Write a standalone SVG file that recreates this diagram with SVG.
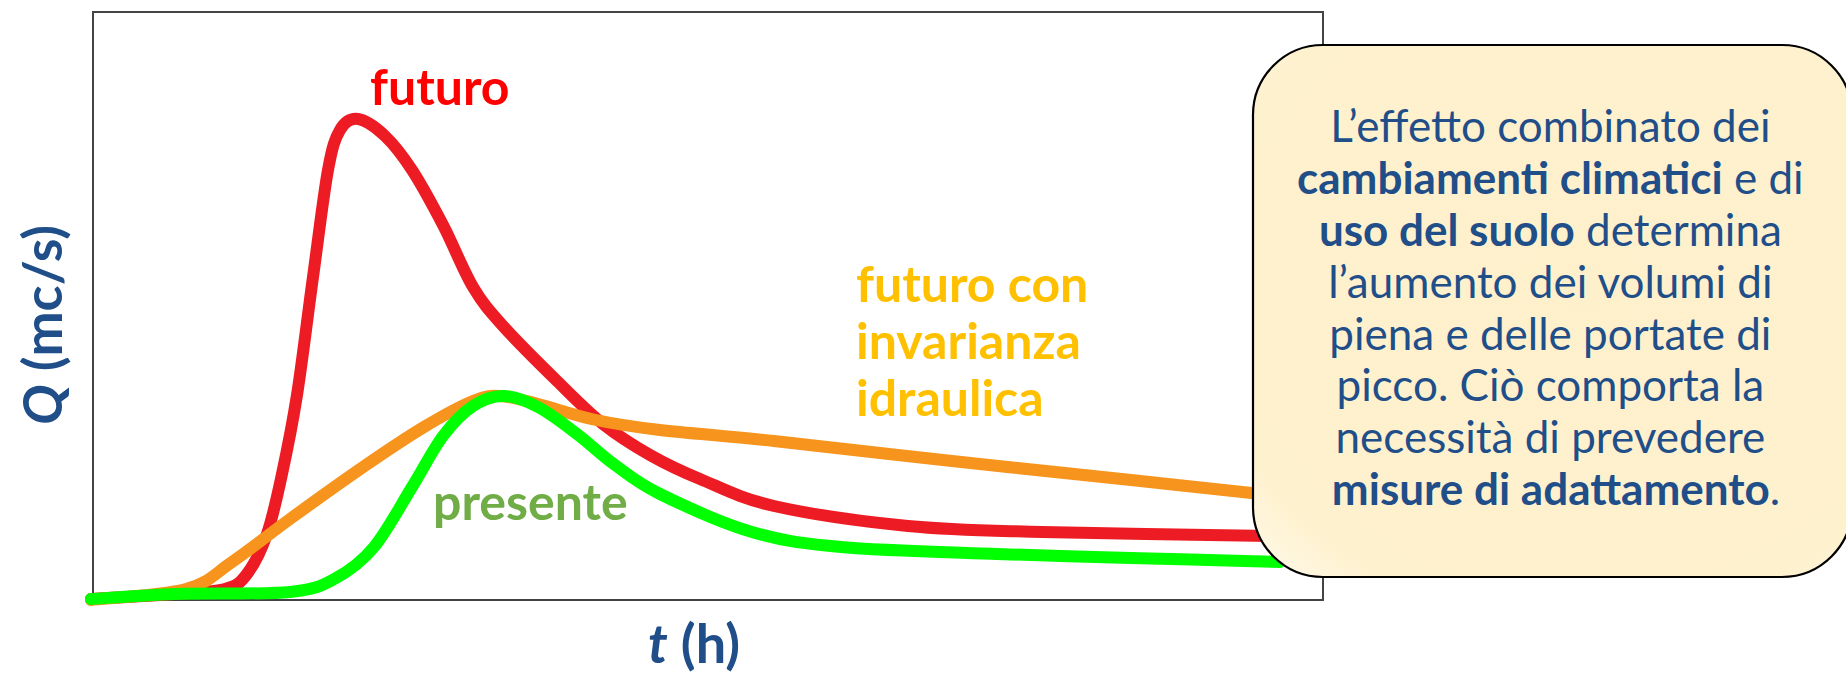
<svg xmlns="http://www.w3.org/2000/svg" width="1846" height="676" viewBox="0 0 1846 676">
<style>
.lbl{font-family:Lato,"Open Sans","Liberation Sans",sans-serif;font-weight:bold}
.ax{fill:#1F4E89;font-size:54px}
.box{font-family:Lato,"Open Sans","Liberation Sans",sans-serif;font-size:44px;fill:#1F4E89;text-anchor:middle}
.b{font-weight:bold}
.curve{fill:none;stroke-width:12;stroke-linecap:round;stroke-linejoin:round}
</style>
<defs>
<radialGradient id="cream" cx="0.55" cy="0.45" r="0.75">
<stop offset="0" stop-color="#FEF0CB"/>
<stop offset="0.85" stop-color="#FEF1CE"/>
<stop offset="1" stop-color="#FFF8E6"/>
</radialGradient>
</defs>
<rect width="1846" height="676" fill="#FFFFFF"/>
<g id="frame">
<rect x="93" y="12" width="1230" height="588" fill="#FFFFFF" stroke="#444444" stroke-width="2"/>
</g>
<g id="curves">
<path id="curve-futuro" class="curve" stroke="#ED1C24" d="M91,599 C105,598.2 152.7,595.7 175,594 C197.3,592.3 213,592.3 225,589 C237,585.7 240,583.2 247,574 C254,564.8 261.2,550.7 267,534 C272.8,517.3 277,497.2 282,474 C287,450.8 291.8,427.8 297,395 C302.2,362.2 307.8,314.5 313,277 C318.2,239.5 323.5,194.5 328,170 C332.5,145.5 335,138.5 340,130 C345,121.5 350.5,118 358,119 C365.5,120 376,127.5 385,136 C394,144.5 402.3,155.2 412,170 C421.7,184.8 432.8,205.5 443,225 C453.2,244.5 463,270.2 473,287 C483,303.8 489,310.3 503,326 C517,341.7 540.3,364.7 557,381 C573.7,397.3 587.5,411.7 603,424 C618.5,436.3 633.8,445.8 650,455 C666.2,464.2 679.3,470.5 700,479 C720.7,487.5 739.3,498.2 774,506 C808.7,513.8 863.3,521.7 908,526 C952.7,530.3 981.7,530.3 1042,532 C1102.3,533.7 1232,535.3 1270,536"/>
<path id="curve-invarianza" class="curve" stroke="#F7941D" d="M91,600 C106.8,598.2 162.5,595.3 186,589 C209.5,582.7 214.7,573.7 232,562 C249.3,550.3 267.7,535.2 290,519 C312.3,502.8 343.7,480.3 366,465 C388.3,449.7 406.2,437.7 424,427 C441.8,416.3 460.3,406.2 473,401 C485.7,395.8 489.2,395.5 500,396 C510.8,396.5 522,400 538,404 C554,408 575.7,415.7 596,420 C616.3,424.3 630.3,426.5 660,430 C689.7,433.5 725.3,435.8 774,441 C822.7,446.2 892.5,454.5 952,461 C1011.5,467.5 1078,474.3 1131,480 C1184,485.7 1246.8,492.5 1270,495"/>
<path id="curve-presente" class="curve" stroke="#00FF00" d="M91,599 C105,598.2 141.8,595.2 175,594 C208.2,592.8 263.2,594.7 290,592 C316.8,589.3 322,585.5 336,578 C350,570.5 361.3,562.2 374,547 C386.7,531.8 400.5,505.5 412,487 C423.5,468.5 432.8,449.5 443,436 C453.2,422.5 462.8,412.7 473,406 C483.2,399.3 493.2,395.8 504,396 C514.8,396.2 525.8,400.7 538,407 C550.2,413.3 564.2,424.3 577,434 C589.8,443.7 601.2,455 615,465 C628.8,475 637.2,482.8 660,494 C682.8,505.2 721.8,523.2 752,532 C782.2,540.8 800.2,543.3 841,547 C881.8,550.7 948.7,552.2 997,554 C1045.3,555.8 1083.8,556.7 1131,558 C1178.2,559.3 1255.2,561.3 1280,562"/>
</g>
<g id="label-futuro"><text class="lbl" x="370" y="105" font-size="50" fill="#FF0000">futuro</text></g>
<g id="label-presente"><text class="lbl" x="433" y="520" font-size="50" fill="#70AD47">presente</text></g>
<g id="label-invarianza">
<text class="lbl" font-size="50" fill="#FFC000"><tspan x="856" y="302">futuro con</tspan><tspan x="856" y="359">invarianza</tspan><tspan x="856" y="416">idraulica</tspan></text>
</g>
<g id="axis-x"><text class="lbl ax" x="694" y="663" text-anchor="middle"><tspan font-style="italic">t</tspan> (h)</text></g>
<g id="axis-y"><text class="lbl ax" transform="translate(62,325) rotate(-90)" text-anchor="middle" font-size="56"><tspan font-style="italic">Q</tspan> (mc/s)</text></g>
<g id="note">
<rect x="1253" y="45" width="599" height="532" rx="70" ry="70" fill="url(#cream)" stroke="#000000" stroke-width="2.2"/>
<text class="box">
<tspan x="1556" y="142">L’effetto combinato dei</tspan>
<tspan x="1556" y="194"><tspan class="b">cambiamenti climatici</tspan> e di</tspan>
<tspan x="1556" y="246"><tspan class="b">uso del suolo</tspan> determina</tspan>
<tspan x="1556" y="298">l’aumento dei volumi di</tspan>
<tspan x="1556" y="350">piena e delle portate di</tspan>
<tspan x="1556" y="401">picco. Ciò comporta la</tspan>
<tspan x="1556" y="453">necessità di prevedere</tspan>
<tspan x="1556" y="505"><tspan class="b">misure di adattamento</tspan>.</tspan>
</text>
</g>
</svg>
